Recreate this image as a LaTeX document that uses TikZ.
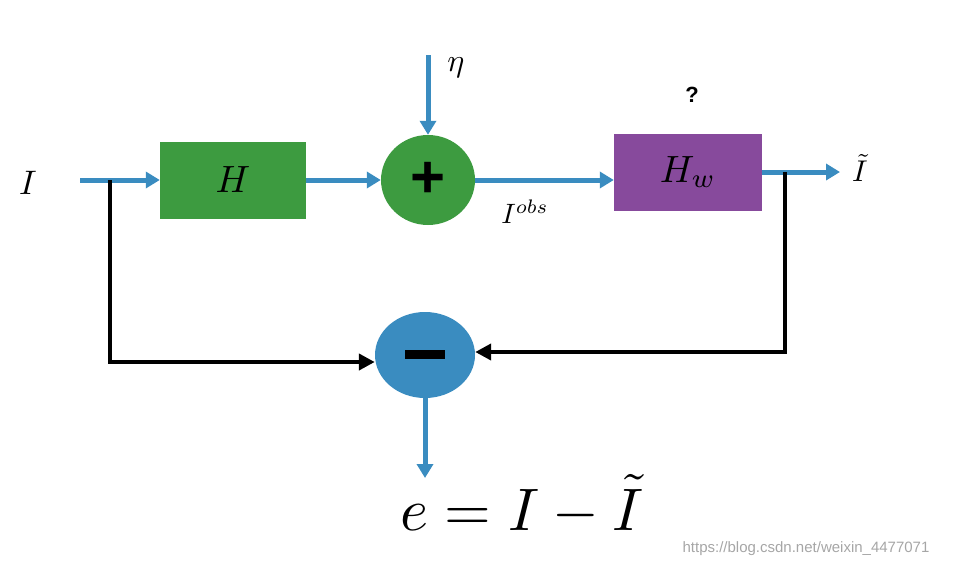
\documentclass[tikz,border=0pt]{standalone}
\usepackage{fontspec}
\usetikzlibrary{arrows.meta,shapes.geometric}
\definecolor{bl}{HTML}{3A8CC0}
\definecolor{gr}{HTML}{3D9B40}
\definecolor{pu}{HTML}{874A9C}
\newfontfamily\sans{Liberation Sans}
\begin{document}
\begin{tikzpicture}[x=1pt,y=-1pt,
 blu/.style={draw=bl,line width=5pt,-{Triangle[length=14pt,width=16pt]}},
 blk/.style={draw=black,line width=4pt,-{Triangle[length=16pt,width=16pt]}}]
\useasboundingbox (0,0) rectangle (961,568);
\node (I) at (28,183) {\scalebox{3.4}{$I$}};
\node[fill=gr,minimum width=146pt,minimum height=77pt,inner sep=0] (H) at (233,180) {\scalebox{3.8}{$H$}};
\node[ellipse,fill=gr,minimum width=94pt,minimum height=90pt,inner sep=0] (P) at (428,180) {\fontsize{60}{60}\selectfont\sans\bfseries +};
\node[fill=pu,minimum width=148pt,minimum height=77pt,inner sep=0] (W) at (688,172) {\scalebox{3.8}{$H_w$}};
\node[ellipse,fill=bl,minimum width=100pt,minimum height=86pt,inner sep=0] (M) at (425,355) {};
\fill (405,350) rectangle (445,359);
\node (eta) at (456,68) {\scalebox{3.2}{$\eta$}};
\node (q) at (692,95) {\fontsize{22}{24}\selectfont\sans\bfseries ?};
\node (obs) at (525,212) {\scalebox{2.8}{$I^{obs}$}};
\node (out) at (860,168) {\scalebox{3}{$\tilde I$}};
\node (eq) at (522,505) {\scalebox{6}{$e=I-\tilde I$}};
\node[text=black!35] (wm) at (806,549) {\fontsize{15}{16}\selectfont\sans https://blog.csdn.net/weixin\_4477071};
\coordinate (s) at (80,180);
\coordinate (e0) at (428,55);
\coordinate (e1) at (425,478);
\coordinate (o1) at (840,172);
\draw[blu] (s) -- (H.west);
\draw[blu] (H.east) -- (P.west);
\draw[blu] (e0) -- (P.north);
\draw[blu] (P.east) -- (W.west|-P.east);
\draw[blu] (W.east) -- (o1);
\draw[blu] (M.south) -- (e1);
\draw[blk] (785,172) -- (785,352) -- (M.east|-0,352);
\draw[blk] (110,180) -- (110,362) -- (M.west|-0,362);
\end{tikzpicture}
\end{document}
